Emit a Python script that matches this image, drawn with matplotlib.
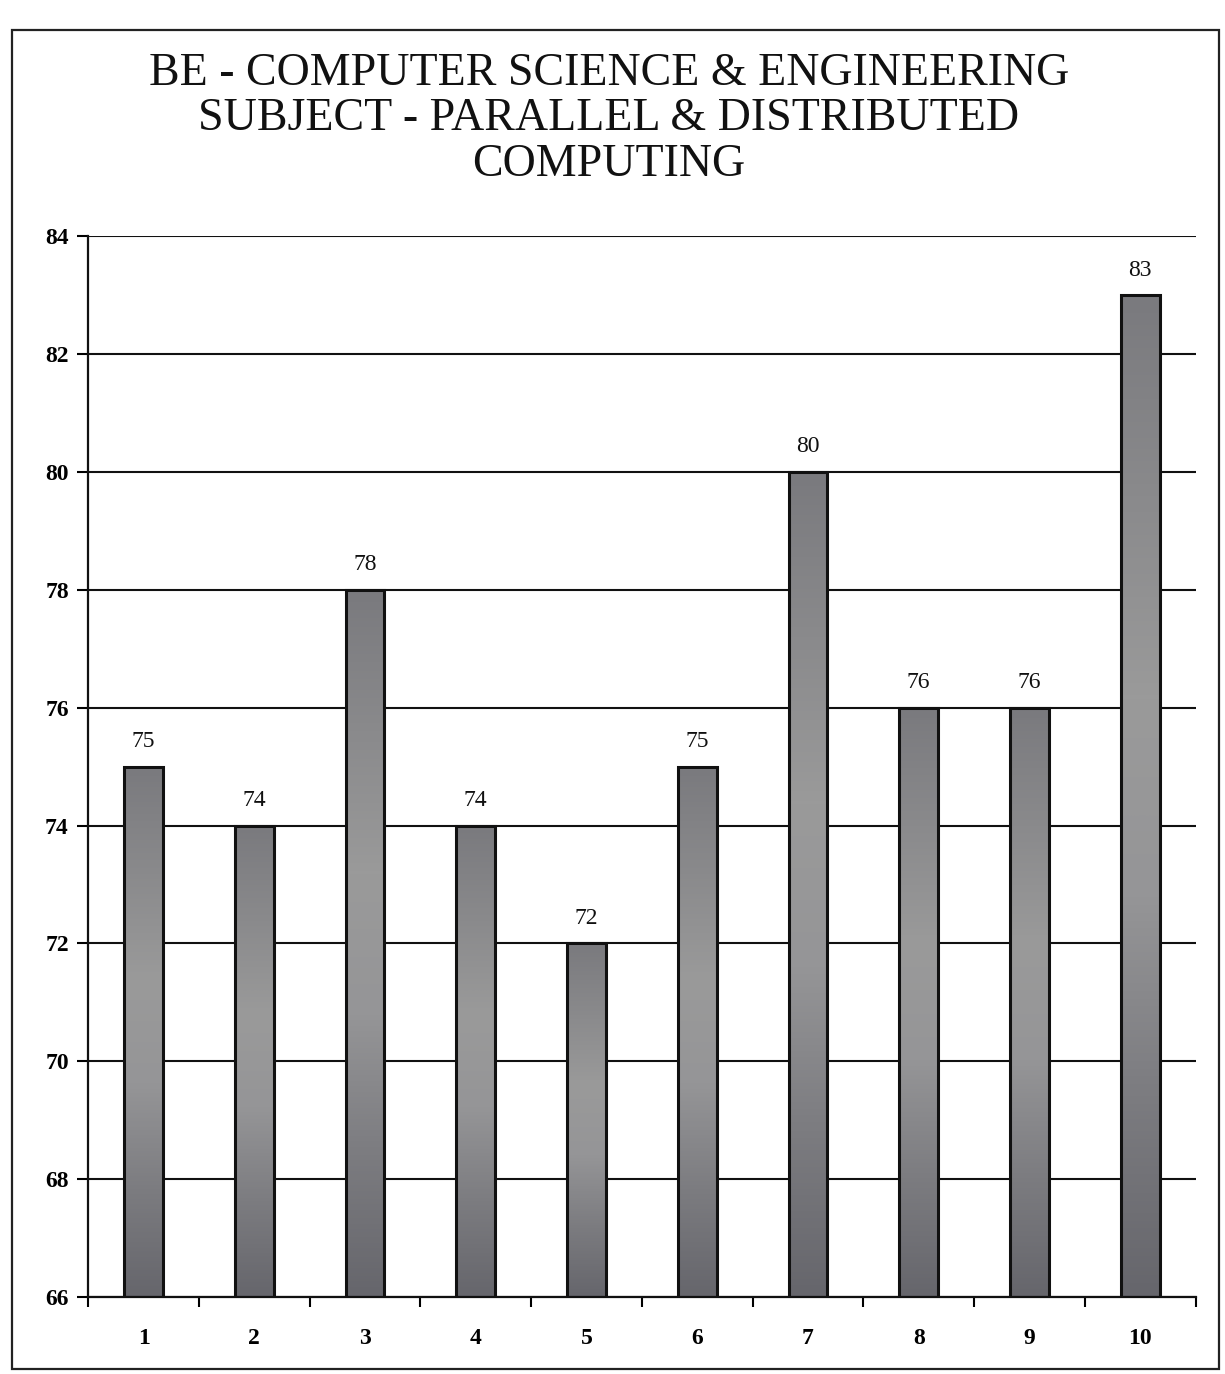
import numpy as np
import matplotlib
matplotlib.use("Agg")
import matplotlib.pyplot as plt
from matplotlib.patches import Rectangle
from matplotlib.colors import LinearSegmentedColormap

categories = ["1", "2", "3", "4", "5", "6", "7", "8", "9", "10"]
values = [75, 74, 78, 74, 72, 75, 80, 76, 76, 83]
yticks = [66, 68, 70, 72, 74, 76, 78, 80, 82, 84]
title = "BE - COMPUTER SCIENCE & ENGINEERING\nSUBJECT - PARALLEL & DISTRIBUTED\nCOMPUTING"

serif = ["Liberation Serif", "DejaVu Serif"]

fig = plt.figure(figsize=(12.25, 13.74), dpi=100)
fig.patch.set_facecolor("white")
ax = fig.add_axes([0.072, 0.056, 0.904, 0.772])

# outer frame around the chart
fig.add_artist(Rectangle((0.010, 0.004), 0.985, 0.974, transform=fig.transFigure,
                         fill=False, edgecolor="#222222", linewidth=1.6))

ymin, ymax = yticks[0], yticks[-1]
x = np.arange(len(categories))
width = 0.35

cmap = LinearSegmentedColormap.from_list(
    "bar", ["#66666c", "#7c7c80", "#959597", "#9a9a9a", "#8a8a8c", "#7a7a7e"])
grad = np.linspace(0, 1, 200).reshape(-1, 1)

bars = ax.bar(x, np.array(values) - ymin, bottom=ymin, width=width,
              color="none", edgecolor="#111111", linewidth=2.2, zorder=3)
for b in bars:
    x0, y0 = b.get_x(), b.get_y()
    w, h = b.get_width(), b.get_height()
    im = ax.imshow(grad, cmap=cmap, aspect="auto", origin="lower",
                   extent=(x0, x0 + w, y0, y0 + h), zorder=2,
                   interpolation="bilinear")
    im.set_clip_path(b)

for xi, v in zip(x, values):
    ax.text(xi, v + 0.25, str(v), ha="center", va="bottom",
            family=serif, fontsize=17, color="#111111")

ax.set_xlim(-0.5, len(categories) - 0.5)
ax.set_ylim(ymin, ymax)
ax.set_yticks(yticks)
ax.set_yticklabels([str(t) for t in yticks], family=serif, fontsize=17,
                   fontweight="bold")
ax.set_xticks(x)
ax.set_xticklabels(categories, family=serif, fontsize=17, fontweight="bold")
ax.set_xticks(np.arange(-0.5, len(categories)), minor=True)
ax.tick_params(axis="x", which="major", length=0, pad=22)
ax.tick_params(axis="x", which="minor", length=7, width=1.5, direction="out")
ax.tick_params(axis="y", length=8, width=1.5, direction="out", pad=6)

ax.yaxis.grid(True, color="#111111", linewidth=1.5, zorder=1)
ax.set_axisbelow(True)
for s in ["top", "right"]:
    ax.spines[s].set_visible(False)
for s in ["left", "bottom"]:
    ax.spines[s].set_linewidth(1.6)
    ax.spines[s].set_color("#111111")

fig.text(0.497, 0.962, title, ha="center", va="top", family=serif,
         fontsize=33, fontweight="normal", linespacing=1.1, color="#111111")

fig.savefig("out.png", dpi=100)
